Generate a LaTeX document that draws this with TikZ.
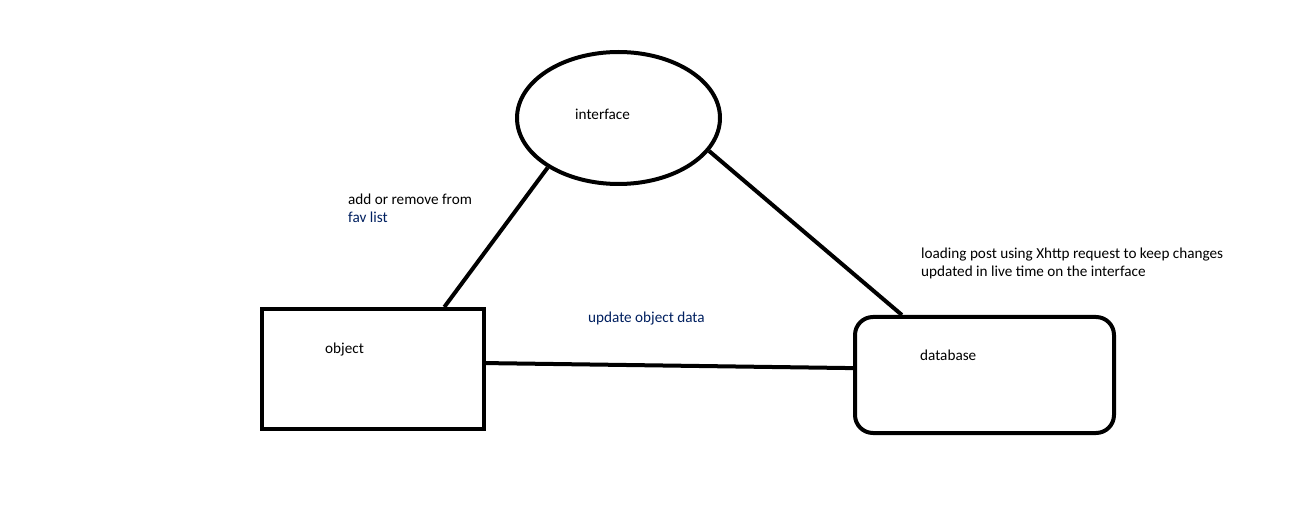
\documentclass[tikz,border=0pt]{standalone}
\usepackage{fontspec}
\setmainfont{Carlito}
\usepackage{tikz}
\usetikzlibrary{shapes.geometric,calc}
\definecolor{inkBlack}{RGB}{0,0,0}
\definecolor{noteNavy}{RGB}{0,32,96}
\tikzset{
  part/.style={draw=inkBlack, line width=4pt, inner sep=0pt},
  ovalpart/.style={part, ellipse, minimum width=203pt, minimum height=132pt},
  boxpart/.style={part, rectangle, minimum width=222pt, minimum height=120pt},
  dbpart/.style={part, rectangle, rounded corners=18pt, minimum width=259pt, minimum height=116pt},
  note/.style={anchor=base west, inner sep=0pt, align=left, font=\fontsize{15.2}{18}\selectfont, text=inkBlack},
  link/.style={draw=inkBlack, line width=4pt}
}
\begin{document}
\begin{tikzpicture}[x=1pt, y=-1pt]
  \fill[white] (0,0) rectangle (1315,521);
  \useasboundingbox (0,0) rectangle (1315,521);
  % the three parts
  \node[ovalpart] (iface) at (618.5,118) {};
  \node[boxpart] (obj) at (373,369) {};
  \node[dbpart] (db) at (984.5,375) {};
  % texts
  \node[note] (ifaceText) at (575,120) {interface};
  \node[note] (objText) at (325,353) {object};
  \node[note] (dbText) at (920,361) {database};
  \node[note] (favText) at (348,223) {add or remove from\\\textcolor{noteNavy}{fav list}};
  \node[note, text=noteNavy] (updText) at (588,323) {update object data};
  \node[note] (loadText) at (921,277) {loading post using Xhttp request to keep changes\\updated in live time on the interface};
  % links
  \draw[link] (obj.41) -- (iface.215);
  \draw[link] (iface.340) -- (db.144);
  \draw[link] (obj.3) -- (db.177);
\end{tikzpicture}
\end{document}
